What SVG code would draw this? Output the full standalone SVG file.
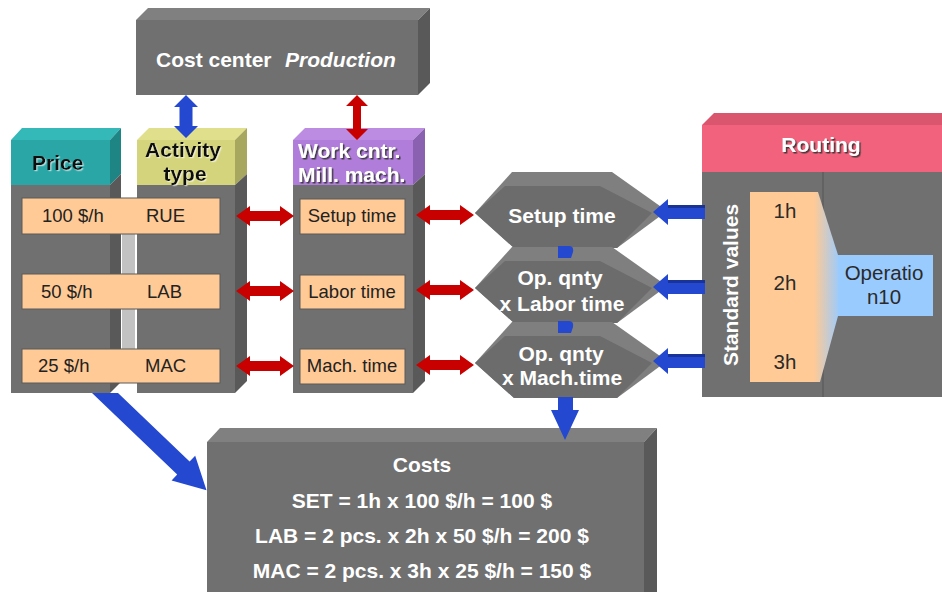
<svg xmlns="http://www.w3.org/2000/svg" width="942" height="592" viewBox="0 0 942 592">
  <defs>
    <style>
      .front{fill:#707070}
      .side{fill:#595959}
      .top{fill:#808080}
      .bar{fill:#ffca95;stroke:#5a5a5a;stroke-width:1}
      .hexout{fill:#7f7f7f}
      .hexfront{fill:#6c6c6c}
      .wb{font-family:"Liberation Sans",Arial,sans-serif;font-weight:bold;font-size:21px;fill:#ffffff}
      .kb{font-family:"Liberation Sans",Arial,sans-serif;font-weight:bold;font-size:21px;fill:#111111}
      .bt{font-family:"Liberation Sans",Arial,sans-serif;font-size:18.5px;fill:#222222}
      .rt{font-family:"Liberation Sans",Arial,sans-serif;font-size:20.5px;fill:#2a2a2a}
      .red{fill:#c80000}
      .blue{fill:#2449d0}
      .bluedark{fill:#1a3399}
    </style>
    <filter id="darkShadow" x="-10%" y="-20%" width="130%" height="160%">
      <feDropShadow dx="1.5" dy="1.5" stdDeviation="0.6" flood-color="#333333" flood-opacity="0.9"/>
    </filter>
    <filter id="lightShadow" x="-10%" y="-20%" width="130%" height="160%">
      <feDropShadow dx="1.2" dy="1.2" stdDeviation="0.6" flood-color="#ffffff" flood-opacity="0.6"/>
    </filter>
    <linearGradient id="funnelFill" gradientUnits="userSpaceOnUse" x1="814" y1="0" x2="840" y2="0">
      <stop offset="0" stop-color="#ffca95"/>
      <stop offset="1" stop-color="#9acbff"/>
    </linearGradient>
    <!-- beveled hexagon used by the three calculation steps -->
    <g id="hexShape">
      <polygon class="hexout" points="0,41 37,0 137,0 192,39 142,76 39,76"/>
      <polygon class="hexfront" points="0,41 30,14 125,14 177,41 142,76 39,76"/>
    </g>
    <!-- horizontal red double arrow, 58 px long -->
    <path id="redDouble" d="M0,0 L14,-10 L14,-5 L44,-5 L44,-10 L58,0 L44,10 L44,5 L14,5 L14,10 Z"/>
    <!-- blue arrow pointing left, from the routing -->
    <g id="blueLeft">
      <path class="blue" d="M0,0 L15,-13 L15,-7 L52,-7 L52,7 L15,7 L15,13 Z"/>
      <path class="bluedark" d="M15,-7 L52,-7 L52,-4 L15,-4 Z"/>
    </g>
  </defs>

  <rect width="942" height="592" fill="#ffffff"/>

  <!-- Cost center -->
  <g id="cost-center">
    <polygon class="top" points="136,20 148,8 430,8 418,20"/>
    <polygon class="side" points="418,20 430,8 430,83 418,95"/>
    <rect class="front" x="136" y="20" width="282" height="75"/>
    <text class="wb" x="156" y="67">Cost center<tspan x="285" font-style="italic">Production</tspan></text>
  </g>

  <!-- Price -->
  <g id="price">
    <polygon fill="#34b8b8" points="11,140 22,128 121,128 110,140"/>
    <rect fill="#2aa6a6" x="11" y="140" width="99" height="45"/>
    <polygon fill="#1f8484" points="110,140 121,128 121,174 110,185"/>
    <rect class="front" x="11" y="185" width="99" height="208"/>
    <polygon class="side" points="110,185 121,174 121,382 110,393"/>
    <text class="kb" x="32" y="170" filter="url(#lightShadow)">Price</text>
  </g>

  <!-- Activity type -->
  <g id="activity-type">
    <polygon fill="#e0e08c" points="137,140 149,128 247,128 235,140"/>
    <rect fill="#d4d47c" x="137" y="140" width="98" height="45"/>
    <polygon fill="#a7a75f" points="235,140 247,128 247,174 235,185"/>
    <rect class="front" x="137" y="185" width="98" height="208"/>
    <polygon class="side" points="235,185 247,174 247,381 235,393"/>
    <text class="kb" x="183" y="157" text-anchor="middle" filter="url(#lightShadow)">Activity</text>
    <text class="kb" x="185" y="181" text-anchor="middle" filter="url(#lightShadow)">type</text>
  </g>

  <!-- Rate rows shared by price and activity type -->
  <g id="rate-rows">
    <rect fill="#c2c2c2" x="122" y="228" width="13" height="124"/>
    <rect class="bar" x="22" y="198" width="198" height="36"/>
    <rect class="bar" x="22" y="274" width="198" height="35"/>
    <rect class="bar" x="22" y="349" width="198" height="34"/>
    <text class="bt" x="42" y="222">100 $/h</text>
    <text class="bt" x="146" y="222">RUE</text>
    <text class="bt" x="41" y="298">50 $/h</text>
    <text class="bt" x="147" y="298">LAB</text>
    <text class="bt" x="38" y="372">25 $/h</text>
    <text class="bt" x="145" y="372">MAC</text>
  </g>

  <!-- Work center -->
  <g id="work-center">
    <polygon fill="#bb8ce2" points="293,140 305,128 425,128 413,140"/>
    <rect fill="#b07ddb" x="293" y="140" width="120" height="45"/>
    <polygon fill="#8a60b0" points="413,140 425,128 425,174 413,185"/>
    <rect class="front" x="293" y="185" width="120" height="208"/>
    <polygon class="side" points="413,185 425,174 425,381 413,393"/>
    <text class="wb" x="298" y="158" filter="url(#darkShadow)">Work cntr.</text>
    <text class="wb" x="298" y="182" filter="url(#darkShadow)">Mill. mach.</text>
    <rect class="bar" x="300" y="199" width="105" height="35"/>
    <rect class="bar" x="300" y="275" width="105" height="34"/>
    <rect class="bar" x="300" y="349" width="105" height="35"/>
    <text class="bt" x="352" y="222" text-anchor="middle">Setup time</text>
    <text class="bt" x="352" y="298" text-anchor="middle">Labor time</text>
    <text class="bt" x="352" y="372" text-anchor="middle">Mach. time</text>
  </g>

  <!-- Calculation steps -->
  <g id="step-setup">
    <use href="#hexShape" transform="translate(475,172)"/>
    <text class="wb" x="562" y="223" text-anchor="middle">Setup time</text>
  </g>
  <g id="step-labor">
    <use href="#hexShape" transform="translate(475,247)"/>
    <text class="wb" x="560" y="285" text-anchor="middle">Op. qnty</text>
    <text class="wb" x="562" y="311" text-anchor="middle">x Labor time</text>
  </g>
  <g id="step-machine">
    <use href="#hexShape" transform="translate(475,322)"/>
    <text class="wb" x="561" y="361" text-anchor="middle">Op. qnty</text>
    <text class="wb" x="562" y="385" text-anchor="middle">x Mach.time</text>
  </g>

  <!-- Routing -->
  <g id="routing">
    <polygon fill="#d9566e" points="702,125 714,113 942,113 942,125"/>
    <rect class="front" x="702" y="125" width="240" height="272"/>
    <rect fill="#f2627c" x="702" y="125" width="240" height="47"/>
    <line x1="823" y1="172" x2="823" y2="397" stroke="#5e5e5e" stroke-width="1.5"/>
    <text class="wb" x="821" y="152" text-anchor="middle" filter="url(#darkShadow)">Routing</text>
    <path d="M750,192 L818,192 L838,255 L838,316 L820,382 L750,382 Z" fill="url(#funnelFill)"/>
    <rect fill="#9acbff" x="838" y="255" width="95" height="61"/>
    <text class="wb" transform="translate(738,285) rotate(-90)" text-anchor="middle">Standard values</text>
    <text class="rt" x="785" y="218" text-anchor="middle">1h</text>
    <text class="rt" x="785" y="290" text-anchor="middle">2h</text>
    <text class="rt" x="785" y="369" text-anchor="middle">3h</text>
    <text class="rt" x="884" y="280" text-anchor="middle" font-size="21px">Operatio</text>
    <text class="rt" x="884" y="304" text-anchor="middle" font-size="21px">n10</text>
  </g>

  <!-- Costs -->
  <g id="costs">
    <polygon class="top" points="207,442 220,428 657,428 644,442"/>
    <polygon class="side" points="644,442 657,428 657,592 644,592"/>
    <rect class="front" x="207" y="442" width="437" height="150"/>
    <text class="wb" x="422" y="472" text-anchor="middle">Costs</text>
    <text class="wb" x="422" y="508" text-anchor="middle">SET = 1h x 100 $/h = 100 $</text>
    <text class="wb" x="422" y="543" text-anchor="middle">LAB = 2 pcs. x 2h x 50 $/h = 200 $</text>
    <text class="wb" x="422" y="578" text-anchor="middle">MAC = 2 pcs. x 3h x 25 $/h = 150 $</text>
  </g>

  <!-- Connectors -->
  <g id="connectors">
    <!-- cost center to activity type / work center -->
    <path class="blue" d="M186,95 L198,107 L192.5,107 L192.5,126 L198,126 L186,138 L174,126 L179.5,126 L179.5,107 L174,107 Z"/>
    <path class="red" d="M357,95 L368,106 L361,106 L361,129 L368,129 L357,140 L346,129 L353,129 L353,106 L346,106 Z"/>
    <!-- activity type to work center -->
    <use href="#redDouble" class="red" transform="translate(236,216)"/>
    <use href="#redDouble" class="red" transform="translate(236,291)"/>
    <use href="#redDouble" class="red" transform="translate(236,366)"/>
    <!-- work center to calculation steps -->
    <use href="#redDouble" class="red" transform="translate(416,215)"/>
    <use href="#redDouble" class="red" transform="translate(416,290)"/>
    <use href="#redDouble" class="red" transform="translate(416,365)"/>
    <!-- routing standard values to calculation steps -->
    <use href="#blueLeft" transform="translate(653,212)"/>
    <use href="#blueLeft" transform="translate(653,287)"/>
    <use href="#blueLeft" transform="translate(653,361)"/>
    <!-- chain of steps down to costs -->
    <path class="blue" d="M558,246 L569,246 Q574,246 573,252 L571,258 L558,258 Z"/>
    <path class="blue" d="M558,321 L569,321 Q574,321 573,327 L571,333 L558,333 Z"/>
    <path class="blue" d="M558,397 L573,397 L573,410 L579,410 L565,440 L551,410 L558,410 Z"/>
    <!-- price to costs -->
    <polygon class="blue" points="92,393 118,393 189.6,461.6 195.2,455.8 206.5,490.3 171.6,480.4 177.2,474.6"/>
  </g>
</svg>
